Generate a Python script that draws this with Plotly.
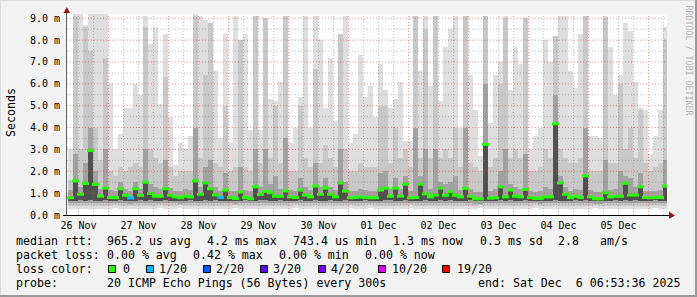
import plotly.graph_objects as go
import pandas as pd
import numpy as np

# ---------------- data ----------------
day_labels = ["26 Nov", "27 Nov", "28 Nov", "29 Nov", "30 Nov",
              "01 Dec", "02 Dec", "03 Dec", "04 Dec", "05 Dec"]
day_noons = pd.date_range("2025-11-26 12:00", periods=10, freq="D")
y_tick_vals = [0, 1, 2, 3, 4, 5, 6, 7, 8, 9]
y_tick_text = ["%.1f m" % v for v in y_tick_vals]

# 2-hour consolidated bins (centres)
bin_times = pd.date_range("2025-11-26 08:48", periods=120, freq="2h")

median_ms = [
    0.79, 1.56, 0.95, 1.44, 2.95, 1.40, 0.86, 1.23, 0.80, 0.79, 1.20, 0.90, 0.78, 1.20, 0.90, 1.50, 0.98, 0.86, 0.86, 1.20, 0.90, 0.83, 0.79, 0.86,
    0.83, 1.56, 0.95, 1.47, 1.20, 0.92, 0.80, 1.14, 0.80, 0.76, 1.05, 0.80, 0.74, 1.29, 0.94, 1.08, 1.02, 0.86, 0.86, 1.10, 0.83, 0.80, 1.14, 0.91,
    0.83, 1.32, 0.95, 1.23, 0.95, 0.83, 1.47, 1.09, 0.79, 0.80, 0.83, 0.80, 0.79, 0.79, 1.14, 1.23, 0.86, 1.23, 0.86, 1.41, 0.79, 0.80, 1.41, 0.97,
    0.83, 0.91, 1.23, 0.90, 1.06, 0.90, 0.83, 1.21, 0.86, 0.74, 0.74, 3.23, 0.77, 0.79, 1.29, 0.83, 1.14, 0.86, 0.83, 1.17, 0.80, 0.76, 0.76, 0.83,
    0.83, 4.17, 1.47, 0.95, 0.79, 0.86, 0.80, 1.79, 0.83, 0.74, 0.74, 1.02, 0.83, 0.86, 0.86, 1.45, 0.91, 0.91, 1.29, 0.80, 0.79, 0.80, 0.80, 1.32]

loss_pings = [
    0, 0, 0, 0, 0, 0, 0, 0, 0, 0, 0, 0, 1, 0, 0, 0, 0, 0, 0, 0, 0, 0, 0, 0,
    0, 0, 0, 0, 0, 0, 1, 0, 0, 0, 0, 0, 0, 0, 0, 0, 0, 0, 0, 0, 0, 0, 0, 0,
    0, 0, 0, 0, 0, 0, 0, 0, 0, 0, 0, 0, 0, 0, 0, 0, 0, 0, 0, 0, 0, 0, 0, 0,
    0, 0, 0, 0, 0, 0, 0, 0, 0, 0, 0, 0, 0, 0, 0, 0, 0, 0, 0, 0, 0, 0, 0, 0,
    0, 0, 0, 0, 0, 0, 0, 0, 0, 0, 0, 0, 0, 0, 0, 0, 0, 0, 0, 0, 0, 0, 0, 0]

smoke_max = [
    3.0, 9.2, 9.2, 8.7, 9.2, 9.2, 9.2, 9.2, 6.0, 3.0, 3.7, 4.9, 4.9, 6.0, 5.5, 9.1, 7.8, 8.6, 5.1, 8.3, 4.5, 2.3, 3.3, 3.0,
    3.6, 9.2, 9.1, 8.9, 8.8, 6.6, 3.5, 8.3, 3.3, 9.1, 8.0, 8.3, 3.9, 9.1, 3.9, 9.0, 5.3, 5.2, 6.1, 9.1, 3.3, 4.0, 5.4, 9.1,
    4.0, 9.1, 8.0, 4.9, 7.2, 4.3, 8.3, 9.1, 3.3, 3.7, 7.3, 5.4, 5.9, 4.5, 6.9, 5.7, 4.9, 5.3, 6.1, 3.4, 3.4, 9.1, 6.6, 9.1,
    5.9, 9.1, 5.2, 7.7, 8.5, 9.1, 4.0, 9.1, 6.4, 4.8, 2.7, 9.1, 4.2, 6.4, 7.0, 9.1, 5.7, 7.7, 6.9, 9.0, 3.0, 3.6, 4.0, 8.0,
    7.0, 8.2, 9.1, 9.1, 6.6, 5.8, 8.3, 9.1, 3.6, 3.6, 3.5, 9.1, 7.7, 5.5, 6.4, 8.8, 8.4, 6.1, 4.9, 4.8, 2.8, 3.6, 4.8, 8.6]

smoke_p90 = [
    1.6, 9.1, 3.0, 8.6, 7.5, 4.0, 2.5, 7.2, 2.0, 1.8, 2.2, 2.0, 2.2, 2.4, 2.2, 8.6, 3.0, 2.6, 2.4, 6.3, 2.2, 1.8, 2.0, 2.0,
    2.0, 9.1, 2.6, 6.4, 8.8, 2.4, 2.2, 5.0, 2.0, 2.2, 8.0, 2.2, 2.0, 9.1, 2.4, 9.0, 2.6, 5.0, 2.4, 9.1, 2.0, 2.0, 5.0, 2.6,
    2.2, 6.7, 2.4, 3.2, 2.6, 2.2, 8.3, 3.0, 2.0, 2.0, 2.4, 2.2, 2.2, 2.2, 5.0, 5.0, 2.4, 4.0, 2.6, 3.0, 2.2, 9.1, 2.6, 8.5,
    2.6, 9.1, 2.6, 3.0, 2.6, 4.0, 2.2, 9.1, 2.4, 2.2, 2.0, 9.1, 2.2, 2.6, 6.0, 9.0, 2.6, 3.0, 2.6, 9.0, 2.0, 2.0, 2.2, 3.0,
    2.6, 8.2, 3.0, 2.6, 2.4, 2.4, 2.6, 9.1, 2.0, 2.0, 2.0, 9.0, 2.4, 2.4, 6.0, 3.0, 4.0, 2.6, 4.8, 2.4, 2.0, 2.2, 2.4, 8.0]

smoke_p75 = [
    1.15, 2.8, 1.3, 2.4, 4.0, 2.0, 1.2, 3.0, 1.15, 1.1, 1.5, 1.2, 1.1, 1.5, 1.2, 3.0, 1.4, 1.3, 1.2, 2.5, 1.25, 1.1, 1.1, 1.2,
    1.15, 4.0, 1.3, 2.2, 2.5, 1.3, 1.1, 1.9, 1.1, 1.1, 2.2, 1.15, 1.1, 3.0, 1.3, 3.0, 1.4, 1.8, 1.2, 3.5, 1.15, 1.1, 1.7, 1.3,
    1.15, 2.4, 1.3, 1.7, 1.3, 1.15, 3.0, 1.5, 1.1, 1.1, 1.2, 1.15, 1.1, 1.1, 1.9, 2.0, 1.2, 1.7, 1.2, 1.8, 1.1, 4.0, 1.8, 3.0,
    1.2, 3.0, 1.5, 1.4, 1.5, 1.8, 1.15, 4.0, 1.2, 1.05, 1.05, 6.0, 1.1, 1.2, 2.0, 3.0, 1.4, 1.3, 1.2, 2.8, 1.1, 1.05, 1.1, 1.3,
    1.2, 5.5, 1.8, 1.3, 1.1, 1.2, 1.15, 4.0, 1.15, 1.05, 1.05, 2.5, 1.15, 1.2, 2.0, 1.8, 1.7, 1.3, 1.9, 1.1, 1.1, 1.1, 1.15, 2.5]

smoke_p40 = [
    0.66, 0.65, 0.67, 0.66, 0.68, 0.66, 0.65, 0.67, 0.66, 0.65, 0.67, 0.66, 0.64, 0.66, 0.67, 0.66, 0.68, 0.66, 0.65, 0.67, 0.66, 0.65, 0.64, 0.66,
    0.67, 0.66, 0.65, 0.67, 0.66, 0.68, 0.66, 0.65, 0.66, 0.64, 0.66, 0.67, 0.65, 0.66, 0.68, 0.67, 0.66, 0.65, 0.67, 0.66, 0.66, 0.65, 0.67, 0.66,
    0.66, 0.67, 0.65, 0.66, 0.68, 0.66, 0.65, 0.67, 0.66, 0.65, 0.66, 0.67, 0.65, 0.66, 0.66, 0.67, 0.68, 0.66, 0.65, 0.67, 0.66, 0.65, 0.66, 0.67,
    0.66, 0.65, 0.67, 0.66, 0.68, 0.66, 0.65, 0.66, 0.67, 0.64, 0.64, 0.66, 0.65, 0.66, 0.67, 0.66, 0.68, 0.66, 0.65, 0.67, 0.66, 0.65, 0.64, 0.66,
    0.66, 0.67, 0.66, 0.65, 0.66, 0.68, 0.66, 0.67, 0.66, 0.64, 0.64, 0.66, 0.66, 0.67, 0.66, 0.68, 0.66, 0.67, 0.66, 0.65, 0.66, 0.67, 0.66, 0.66]

smoke_p25 = [
    0.54, 0.53, 0.55, 0.54, 0.56, 0.54, 0.53, 0.55, 0.54, 0.53, 0.55, 0.54, 0.52, 0.54, 0.55, 0.54, 0.56, 0.54, 0.53, 0.55, 0.54, 0.53, 0.52, 0.54,
    0.55, 0.54, 0.53, 0.55, 0.54, 0.56, 0.54, 0.53, 0.54, 0.52, 0.54, 0.55, 0.53, 0.54, 0.56, 0.55, 0.54, 0.53, 0.55, 0.54, 0.54, 0.53, 0.55, 0.54,
    0.54, 0.55, 0.53, 0.54, 0.56, 0.54, 0.53, 0.55, 0.54, 0.53, 0.54, 0.55, 0.53, 0.54, 0.54, 0.55, 0.56, 0.54, 0.53, 0.55, 0.54, 0.53, 0.54, 0.55,
    0.54, 0.53, 0.55, 0.54, 0.56, 0.54, 0.53, 0.54, 0.55, 0.52, 0.52, 0.54, 0.53, 0.54, 0.55, 0.54, 0.56, 0.54, 0.53, 0.55, 0.54, 0.53, 0.52, 0.54,
    0.54, 0.55, 0.54, 0.53, 0.54, 0.56, 0.54, 0.55, 0.54, 0.52, 0.52, 0.54, 0.54, 0.55, 0.54, 0.56, 0.54, 0.55, 0.54, 0.53, 0.54, 0.55, 0.54, 0.54]

smoke_p10 = [
    0.42, 0.41, 0.40, 0.42, 0.41, 0.40, 0.42, 0.43, 0.42, 0.44, 0.43, 0.42, 0.41, 0.42, 0.43, 0.41, 0.42, 0.42, 0.44, 0.41, 0.42, 0.43, 0.44, 0.42,
    0.43, 0.41, 0.42, 0.41, 0.42, 0.43, 0.42, 0.41, 0.43, 0.44, 0.42, 0.43, 0.42, 0.41, 0.43, 0.41, 0.42, 0.43, 0.42, 0.41, 0.43, 0.44, 0.42, 0.42,
    0.42, 0.41, 0.42, 0.43, 0.42, 0.43, 0.41, 0.41, 0.44, 0.43, 0.42, 0.43, 0.44, 0.43, 0.42, 0.41, 0.43, 0.42, 0.42, 0.42, 0.44, 0.41, 0.42, 0.41,
    0.42, 0.41, 0.42, 0.43, 0.42, 0.41, 0.43, 0.41, 0.42, 0.43, 0.44, 0.41, 0.43, 0.43, 0.42, 0.41, 0.42, 0.43, 0.42, 0.41, 0.43, 0.44, 0.43, 0.42,
    0.42, 0.40, 0.41, 0.42, 0.43, 0.42, 0.43, 0.41, 0.42, 0.44, 0.43, 0.41, 0.42, 0.43, 0.42, 0.41, 0.42, 0.43, 0.42, 0.41, 0.43, 0.44, 0.43, 0.41]

smoke_min = [
    0.28, 0.27, 0.26, 0.28, 0.27, 0.26, 0.28, 0.29, 0.28, 0.30, 0.29, 0.28, 0.27, 0.28, 0.29, 0.27, 0.28, 0.28, 0.30, 0.27, 0.28, 0.29, 0.30, 0.28,
    0.29, 0.27, 0.28, 0.27, 0.28, 0.29, 0.28, 0.27, 0.29, 0.30, 0.28, 0.29, 0.28, 0.27, 0.29, 0.27, 0.28, 0.29, 0.28, 0.27, 0.29, 0.30, 0.28, 0.28,
    0.28, 0.27, 0.28, 0.29, 0.28, 0.29, 0.27, 0.27, 0.30, 0.29, 0.28, 0.29, 0.30, 0.29, 0.28, 0.27, 0.29, 0.28, 0.28, 0.28, 0.30, 0.27, 0.28, 0.27,
    0.28, 0.27, 0.28, 0.29, 0.28, 0.27, 0.29, 0.27, 0.28, 0.29, 0.30, 0.27, 0.29, 0.29, 0.28, 0.27, 0.28, 0.29, 0.28, 0.27, 0.29, 0.30, 0.29, 0.28,
    0.28, 0.26, 0.27, 0.28, 0.29, 0.28, 0.29, 0.27, 0.28, 0.30, 0.29, 0.27, 0.28, 0.29, 0.28, 0.27, 0.28, 0.29, 0.28, 0.27, 0.29, 0.30, 0.29, 0.27]

loss_levels = [0, 1, 2, 3, 4, 10, 19]
loss_level_labels = ["0", "1/20", "2/20", "3/20", "4/20", "10/20", "19/20"]
loss_level_colors = ["#26ff00", "#00b8ff", "#0059ff", "#5e00ff", "#7e00ff", "#dd00ff", "#ff0000"]

stats_rtt = [("median rtt:", 16), ("965.2 us avg", 107), ("4.2 ms max", 207),
             ("743.4 us min", 293), ("1.3 ms now", 393), ("0.3 ms sd", 480),
             ("2.8", 558), ("am/s", 600)]
stats_loss = [("packet loss:", 16), ("0.00 % avg", 107), ("0.42 % max", 193),
              ("0.00 % min", 279), ("0.00 % now", 365)]
probe_line = [("probe:", 16), ("20 ICMP Echo Pings (56 Bytes) every 300s", 107),
              ("end: Sat Dec\u00a0\u00a06 06:53:36 2025", 478)]
legend_label_x = [123, 159, 216, 273, 331, 392, 457]
legend_box_x = [108, 146, 203, 260, 318, 378, 442]

# ---------------- layout geometry ----------------
W, H = 697, 297
L, R, T, B = 67, 30, 14, 82
PW = W - L - R
PH = H - T - B
Y_TOP = PH / 21.86
MONO = "DejaVu Sans Mono"


def px(x):
    return (x - L) / PW


def py(y):
    return (H - B - y) / PH


fig = go.Figure()

bin_width_ms = 2 * 3600 * 1000
bands = [(smoke_min, smoke_max, "#dedede"),
         (smoke_p10, smoke_p90, "#c8c8c8"),
         (smoke_p25, smoke_p75, "#a2a2a2"),
         (smoke_p40, median_ms, "#505050")]
for lo, hi, col in bands:
    fig.add_trace(go.Bar(
        x=bin_times, base=lo, y=[h - l for l, h in zip(lo, hi)],
        width=bin_width_ms, marker=dict(color=col, line=dict(width=0)),
        hoverinfo="skip", showlegend=False))

color_of = dict(zip(loss_levels, loss_level_colors))
fig.add_trace(go.Scatter(
    x=bin_times, y=median_ms, mode="markers",
    marker=dict(symbol="line-ew", size=5,
                line=dict(width=3, color=[color_of[v] for v in loss_pings])),
    hoverinfo="skip", showlegend=False))

shapes = []
# grid (drawn above the smoke like rrdtool)
for t in pd.date_range("2025-11-26 12:00", "2025-12-06 06:00", freq="6h"):
    red = t.hour == 0
    shapes.append(dict(type="line", xref="x", yref="paper", x0=t, x1=t, y0=0, y1=1,
                       line=dict(color="rgba(230,60,60,0.55)" if red else "rgba(120,120,120,0.45)",
                                 width=1, dash="1px,2px"), layer="above"))
for v in np.arange(0.5, 9.01, 0.5):
    red = float(v).is_integer()
    shapes.append(dict(type="line", xref="paper", yref="y", x0=0, x1=1, y0=v, y1=v,
                       line=dict(color="rgba(230,60,60,0.55)" if red else "rgba(120,120,120,0.45)",
                                 width=1, dash="1px,2px"), layer="above"))

# axes with arrows
shapes.append(dict(type="line", xref="paper", yref="paper", x0=px(66.5), x1=px(66.5),
                   y0=py(215), y1=py(12), line=dict(color="#606060", width=1), layer="above"))
shapes.append(dict(type="line", xref="paper", yref="paper", x0=px(63), x1=px(670),
                   y0=py(215.5), y1=py(215.5), line=dict(color="#000000", width=1), layer="above"))
shapes.append(dict(type="path", xref="paper", yref="paper",
                   path="M %f,%f L %f,%f L %f,%f Z" % (px(669), py(211.5), px(669), py(219), px(675), py(215.5)),
                   fillcolor="#a01010", line=dict(width=0), layer="above"))
shapes.append(dict(type="path", xref="paper", yref="paper",
                   path="M %f,%f L %f,%f L %f,%f Z" % (px(63.5), py(13), px(70), py(13), px(66.8), py(7)),
                   fillcolor="#a01010", line=dict(width=0), layer="above"))

# loss colour boxes
for bx, col in zip(legend_box_x, loss_level_colors):
    shapes.append(dict(type="rect", xref="paper", yref="paper",
                       x0=px(bx + 0.5), x1=px(bx + 7.5), y0=py(272.5), y1=py(265.5),
                       fillcolor=col, line=dict(color="#000000", width=1)))

# frame shading
shapes.append(dict(type="line", xref="paper", yref="paper", x0=px(0), x1=px(697),
                   y0=py(296), y1=py(296), line=dict(color="#999999", width=2)))
shapes.append(dict(type="line", xref="paper", yref="paper", x0=px(696), x1=px(696),
                   y0=py(0), y1=py(297), line=dict(color="#999999", width=2)))
shapes.append(dict(type="line", xref="paper", yref="paper", x0=px(0), x1=px(695),
                   y0=py(0.5), y1=py(0.5), line=dict(color="#dcdcdc", width=1)))
shapes.append(dict(type="line", xref="paper", yref="paper", x0=px(0.5), x1=px(0.5),
                   y0=py(0), y1=py(295), line=dict(color="#dcdcdc", width=1)))

annotations = []


def add_text(text, x, y, size=11.6, color="#000000", angle=0, xanchor="left"):
    annotations.append(dict(text=text, xref="paper", yref="paper", x=px(x), y=py(y),
                            xanchor=xanchor, yanchor="middle", showarrow=False,
                            textangle=angle, borderpad=0,
                            font=dict(family=MONO, size=size, color=color)))


for txt, x in stats_rtt:
    add_text(txt, x - 1, 241)
for txt, x in stats_loss:
    add_text(txt, x - 1, 255)
add_text("loss color:", 15, 269)
for lab, x in zip(loss_level_labels, legend_label_x):
    add_text(lab, x - 1, 269)
for txt, x in probe_line:
    add_text(txt, x - 1, 283)

add_text("Seconds", 11, 113, size=11.6, angle=-90, xanchor="center")
add_text("RRDTOOL / TOBI OETIKER", 688.5, 60, size=8.3, color="#b4b4b4", angle=90, xanchor="center")

fig.update_layout(
    width=W, height=H,
    margin=dict(l=L, r=R, t=T, b=B, pad=0),
    paper_bgcolor="#f2f2f2", plot_bgcolor="#ffffff",
    barmode="overlay", bargap=0,
    showlegend=False,
    shapes=shapes, annotations=annotations,
    xaxis=dict(type="date", range=["2025-11-26 07:24", "2025-12-06 07:24"],
               tickvals=list(day_noons), ticktext=day_labels,
               showgrid=False, zeroline=False, showline=False, ticks="",
               ticklabelstandoff=3,
               tickfont=dict(family=MONO, size=10, color="#000000"), fixedrange=True),
    yaxis=dict(range=[0, Y_TOP], tickvals=y_tick_vals, ticktext=y_tick_text,
               showgrid=False, zeroline=False, showline=False, ticks="",
               ticklabelstandoff=6,
               tickfont=dict(family=MONO, size=10, color="#000000"), fixedrange=True),
)

fig.write_html("out.html")
